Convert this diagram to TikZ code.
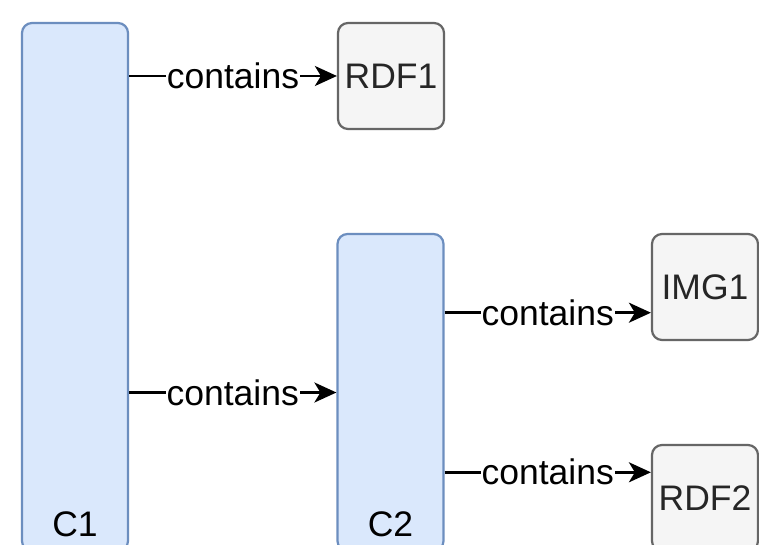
\documentclass[tikz,border=0pt]{standalone}
\usepackage{fontspec}
\setmainfont{Liberation Sans}
\usetikzlibrary{arrows.meta,calc}
\definecolor{collfill}{HTML}{DAE8FC}
\definecolor{colldraw}{HTML}{6C8EBF}
\definecolor{resfill}{HTML}{F5F5F5}
\definecolor{resdraw}{HTML}{666666}
\tikzset{
  coll/.style={draw=colldraw,fill=collfill,line width=2.2pt,rounded corners=10pt,
               minimum width=106pt,inner sep=0pt},
  res/.style={draw=resdraw,fill=resfill,line width=2.2pt,rounded corners=10pt,
              minimum width=106pt,minimum height=106pt,inner sep=0pt,text=black!85},
  arr/.style={line width=2.5pt,-{Stealth[length=22pt,width=20pt,inset=6pt]}},
  lbl/.style={fill=white,inner sep=1pt}
}
\begin{document}
\begin{tikzpicture}[x=1pt,y=-1pt,font=\fontsize{35.5}{42}\selectfont]
\clip (0,0) rectangle (759,545);
\fill[white] (0,0) rectangle (759,545);
% collections
\node[coll,minimum height=528pt] (c1) at (75,287) {};
\node[coll,minimum height=317pt] (c2) at (390.5,392.5) {};
\node[anchor=base] (c1name) at ([yshift=16pt]c1.south) {C1};
\node[anchor=base] (c2name) at ([yshift=16pt]c2.south) {C2};
% resources
\node[res] (rdf1) at (391,76) {RDF1};
\node[res] (img1) at (705,287) {IMG1};
\node[res] (rdf2) at (705,498) {RDF2};
% links
\coordinate (c2top) at ($(c2.north east)!.25!(c2.south east)$);
\coordinate (c2bot) at ($(c2.north east)!.75!(c2.south east)$);
\draw[arr] (c1.east |- rdf1.west) -- (rdf1.west) node[midway,lbl]{contains};
\draw[arr] (c1.east |- c2.west) -- (c2.west) node[midway,lbl]{contains};
\draw[arr] (c2top) -- (c2top -| img1.west) node[midway,lbl]{contains};
\draw[arr] (c2bot) -- (c2bot -| rdf2.west) node[midway,lbl]{contains};
\end{tikzpicture}
\end{document}
